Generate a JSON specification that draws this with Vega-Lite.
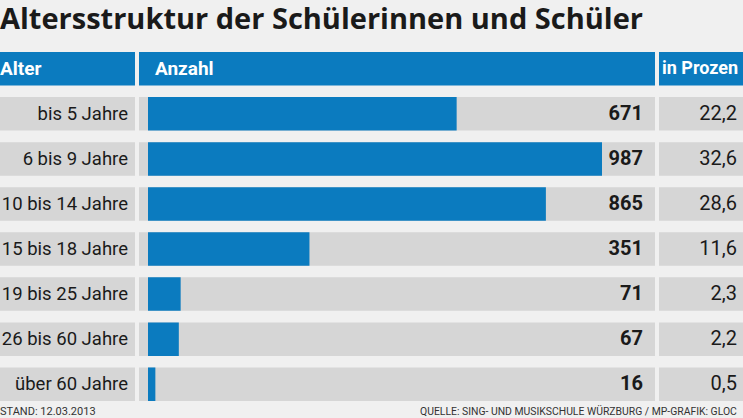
{
  "$schema": "https://vega.github.io/schema/vega-lite/v6.json",
  "background": "#f0f0f0",
  "padding": {"left": 0, "top": 6, "right": 0, "bottom": 0},
  "bounds": "flush",
  "title": {
    "text": "Altersstruktur der Schülerinnen und Schüler",
    "anchor": "start",
    "font": "Open Sans",
    "fontSize": 29,
    "fontWeight": "bold",
    "color": "#1a1a1a",
    "offset": 17
  },
  "datasets": {
    "schueler": [
      {"Alter": "bis 5 Jahre", "Anzahl": 671, "Prozent": 22.2},
      {"Alter": "6 bis 9 Jahre", "Anzahl": 987, "Prozent": 32.6},
      {"Alter": "10 bis 14 Jahre", "Anzahl": 865, "Prozent": 28.6},
      {"Alter": "15 bis 18 Jahre", "Anzahl": 351, "Prozent": 11.6},
      {"Alter": "19 bis 25 Jahre", "Anzahl": 71, "Prozent": 2.3},
      {"Alter": "26 bis 60 Jahre", "Anzahl": 67, "Prozent": 2.2},
      {"Alter": "über 60 Jahre", "Anzahl": 16, "Prozent": 0.5}
    ]
  },
  "spacing": 4,
  "hconcat": [
    {
      "width": 135,
      "height": 349,
      "data": {"name": "schueler"},
      "encoding": {
        "y": {
          "field": "Alter",
          "type": "nominal",
          "sort": null,
          "scale": {
            "domain": ["Kopf", "bis 5 Jahre", "6 bis 9 Jahre", "10 bis 14 Jahre", "15 bis 18 Jahre", "19 bis 25 Jahre", "26 bis 60 Jahre", "über 60 Jahre"],
            "paddingInner": 0.256,
            "paddingOuter": 0
          },
          "axis": null
        }
      },
      "layer": [
        {"mark": {"type": "rect", "color": "#d6d6d6"}},
        {
          "mark": {"type": "text", "align": "right", "baseline": "middle", "font": "Roboto", "fontSize": 18.5, "color": "#1a1a1a", "dx": -7},
          "encoding": {"x": {"value": "width"}, "text": {"field": "Alter"}}
        },
        {
          "data": {"values": [{"Spalte": "Alter"}]},
          "mark": {"type": "rect", "color": "#0b7bbf"},
          "encoding": {"y": {"datum": "Kopf"}}
        },
        {
          "data": {"values": [{"Spalte": "Alter"}]},
          "mark": {"type": "text", "align": "left", "baseline": "middle", "font": "Roboto", "fontSize": 19, "fontWeight": "bold", "color": "#ffffff"},
          "encoding": {"y": {"datum": "Kopf"}, "x": {"value": 0}, "text": {"field": "Spalte"}}
        },
        {
          "data": {"values": [{"Hinweis": "STAND: 12.03.2013"}]},
          "mark": {"type": "text", "align": "left", "baseline": "alphabetic", "font": "Roboto", "fontSize": 11, "color": "#333333", "dy": 14},
          "encoding": {"x": {"value": 0}, "y": {"value": "height"}, "text": {"field": "Hinweis"}}
        }
      ]
    },
    {
      "width": 516,
      "height": 349,
      "data": {"name": "schueler"},
      "encoding": {
        "y": {
          "field": "Alter",
          "type": "nominal",
          "sort": null,
          "scale": {
            "domain": ["Kopf", "bis 5 Jahre", "6 bis 9 Jahre", "10 bis 14 Jahre", "15 bis 18 Jahre", "19 bis 25 Jahre", "26 bis 60 Jahre", "über 60 Jahre"],
            "paddingInner": 0.256,
            "paddingOuter": 0
          },
          "axis": null
        }
      },
      "layer": [
        {"mark": {"type": "rect", "color": "#d6d6d6"}},
        {
          "mark": {"type": "bar", "color": "#0b7bbf"},
          "encoding": {
            "x": {"field": "Anzahl", "type": "quantitative", "scale": {"domain": [0, 987], "range": [9, 463], "nice": false, "zero": true}, "axis": null}
          }
        },
        {
          "mark": {"type": "text", "align": "right", "baseline": "middle", "font": "Roboto", "fontSize": 20, "fontWeight": "bold", "color": "#1a1a1a", "dx": -12},
          "encoding": {"x": {"value": "width"}, "text": {"field": "Anzahl", "type": "quantitative"}}
        },
        {
          "data": {"values": [{"Spalte": "Anzahl"}]},
          "mark": {"type": "rect", "color": "#0b7bbf"},
          "encoding": {"y": {"datum": "Kopf"}}
        },
        {
          "data": {"values": [{"Spalte": "Anzahl"}]},
          "mark": {"type": "text", "align": "left", "baseline": "middle", "font": "Roboto", "fontSize": 19, "fontWeight": "bold", "color": "#ffffff", "dx": 16},
          "encoding": {"y": {"datum": "Kopf"}, "x": {"value": 0}, "text": {"field": "Spalte"}}
        },
        {
          "data": {"values": [{"Hinweis": "QUELLE: SING- UND MUSIKSCHULE WÜRZBURG / MP-GRAFIK: GLOCKER"}]},
          "mark": {"type": "text", "align": "left", "baseline": "alphabetic", "font": "Roboto", "fontSize": 10.4, "color": "#333333", "dy": 14, "dx": 281, "limit": 322, "ellipsis": " "},
          "encoding": {"x": {"value": 0}, "y": {"value": "height"}, "text": {"field": "Hinweis"}}
        }
      ]
    },
    {
      "width": 84,
      "height": 349,
      "data": {"name": "schueler"},
      "encoding": {
        "y": {
          "field": "Alter",
          "type": "nominal",
          "sort": null,
          "scale": {
            "domain": ["Kopf", "bis 5 Jahre", "6 bis 9 Jahre", "10 bis 14 Jahre", "15 bis 18 Jahre", "19 bis 25 Jahre", "26 bis 60 Jahre", "über 60 Jahre"],
            "paddingInner": 0.256,
            "paddingOuter": 0
          },
          "axis": null
        }
      },
      "layer": [
        {"mark": {"type": "rect", "color": "#d6d6d6"}},
        {
          "mark": {"type": "text", "align": "right", "baseline": "middle", "font": "Roboto", "fontSize": 20, "color": "#1a1a1a", "dx": -6},
          "encoding": {"x": {"value": "width"}, "text": {"field": "Prozent", "type": "quantitative", "format": ".1f"}}
        },
        {
          "data": {"values": [{"Spalte": "in Prozent"}]},
          "mark": {"type": "rect", "color": "#0b7bbf"},
          "encoding": {"y": {"datum": "Kopf"}}
        },
        {
          "data": {"values": [{"Spalte": "in Prozent"}]},
          "mark": {"type": "text", "align": "left", "baseline": "middle", "font": "Roboto", "fontSize": 18, "fontWeight": "bold", "color": "#ffffff", "dx": 3, "limit": 81, "ellipsis": " "},
          "encoding": {"y": {"datum": "Kopf"}, "x": {"value": 0}, "text": {"field": "Spalte"}}
        }
      ]
    }
  ],
  "config": {
    "view": {"stroke": null},
    "locale": {
      "number": {"decimal": ",", "thousands": ".", "grouping": [3], "currency": ["", " €"]}
    }
  }
}
